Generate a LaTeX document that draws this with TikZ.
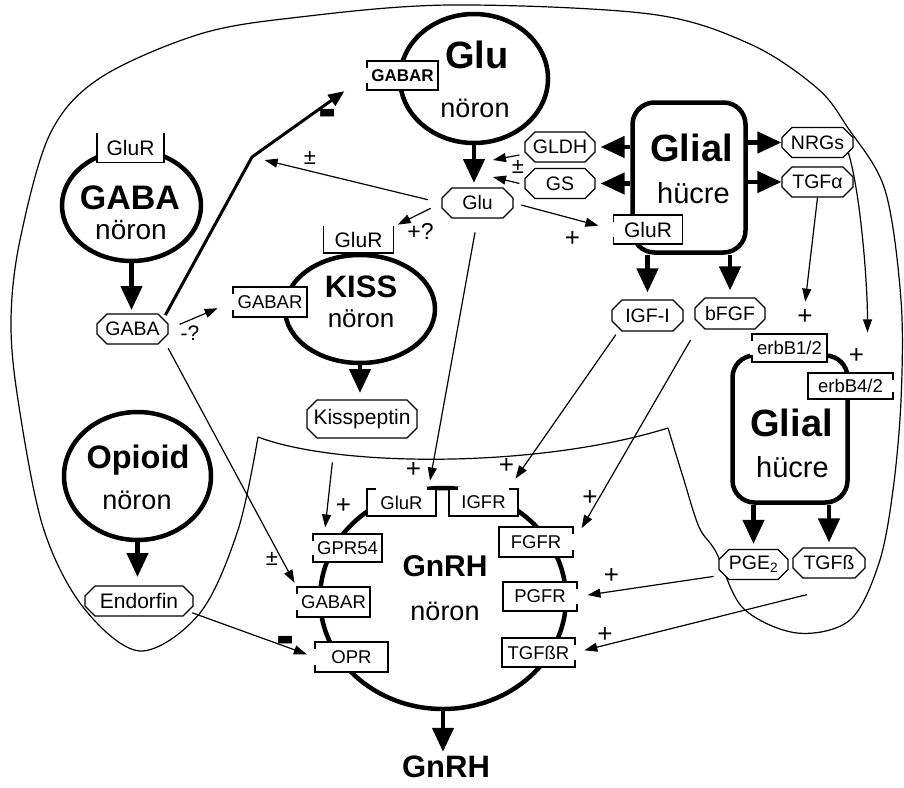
\documentclass[tikz,border=0pt]{standalone}
\usepackage{fontspec}
\setmainfont{Liberation Sans}
\usetikzlibrary{arrows.meta, shapes.geometric, shapes.misc}
\newcommand\fsz[1]{\fontsize{#1}{#1}\selectfont}

\begin{document}
\begin{tikzpicture}[
  x=1pt, y=-1pt,
  cell/.style = {line width=1.2pt},
  neuron/.style = {ellipse, draw, line width=4.5pt, inner sep=0pt},
  glial/.style = {draw, line width=4.5pt, rounded corners=22pt, inner sep=0pt, minimum width=113pt, minimum height=150pt},
  title/.style = {font=\fsz{34}\bfseries, inner sep=0pt},
  sub/.style = {font=\fsz{27}, inner sep=0pt},
  mol/.style = {chamfered rectangle, chamfered rectangle xsep=5pt, chamfered rectangle ysep=5pt, draw, line width=1.2pt, fill=white, inner sep=0pt, minimum width=71pt, minimum height=30pt, font=\fsz{19.5}},
  rec/.style = {draw, line width=1.2pt, fill=white, inner sep=0pt, minimum width=70pt, minimum height=29pt, font=\fsz{18.5}},
  gap/.style = {draw=white, line width=2.8pt},
  big/.style = {line width=4.5pt, -{Triangle[length=24pt, width=21pt]}},
  sig/.style = {line width=1.2pt, -{Triangle[length=13pt, width=9pt]}},
  lbl/.style = {font=\fsz{26}, inner sep=0pt},
  minus/.style = {font=\fsz{42}\bfseries, inner sep=0pt}
]
  \useasboundingbox (0,0) rectangle (904,787);

  % cell outline
  \draw[cell] (258,437) .. controls (340,468) and (540,468) .. (668,428)
    plot[smooth, tension=0.55] coordinates {(668,428) (683,477) (699,527) (716,552) (743,608)
      (797,633) (850,620) (879,563) (893,490) (901,400) (901,300) (885,190) (848,128)
      (817,88) (750,44) (650,14) (450,5) (300,17) (200,34) (100,78) (50,134) (20,240)
      (11,320) (18,400) (43,527) (83,607) (140,651) (200,613) (238,530) (258,437)};

  % neurons
  \node[neuron, minimum width=139pt, minimum height=111pt] (gabaN) at (131.5,205.5) {};
  \node[neuron, minimum width=148pt, minimum height=129pt] (gluN) at (474,78.5) {};
  \node[neuron, minimum width=150pt, minimum height=108pt] (kissN) at (360,309) {};
  \node[neuron, minimum width=147pt, minimum height=128pt] (opioidN) at (137.5,476) {};
  \node[neuron, minimum width=246pt, minimum height=221pt] (gnrhN) at (443,598.5) {};

  % glial cells
  \node[glial] (glialT) at (689,177.5) {};
  \node[glial, minimum width=115pt, minimum height=147pt] (glialB) at (790,429) {};

  \node[font=\fsz{31}\bfseries, inner sep=0pt] (gnrhOut) at (446,767) {GnRH};

  % big arrows
  \draw[big, shorten >=5pt] (gabaN.south) -- (gabaN.south |- 0,315);
  \draw[big, shorten >=5pt] (gluN.south) -- (gluN.south |- 0,188);
  \draw[big, shorten >=7pt] (kissN.south) -- (kissN.south |- 0,400);
  \draw[big, shorten >=9pt] (opioidN.south) -- (opioidN.south |- 0,586);
  \draw[big, shorten >=4pt] (gnrhN.south) -- (gnrhN.south |- gnrhOut.north);

  % receptors
  \node[rec, minimum width=67pt, font=\fsz{21}] (gluRgaba) at (130.5,148) {GluR};
  \node[rec, minimum width=71pt, font=\fsz{17}\bfseries] (gabaRglu) at (402.5,75.5) {GABAR};
  \node[rec, minimum height=26pt, font=\fsz{21}] (gluRkiss) at (358.5,240) {GluR};
  \node[rec, minimum width=74pt, minimum height=30pt] (gabaRkiss) at (270,302) {GABAR};
  \node[rec, minimum width=69pt, font=\fsz{21}] (gluRglial) at (648,229.5) {GluR};
  \node[rec, minimum width=69pt, minimum height=27pt] (gluRgnrh) at (401.5,502.5) {GluR};
  \node[rec, minimum width=69pt, minimum height=27pt] (igfR) at (483.5,502.5) {IGFR};
  \node[rec, minimum width=69pt, minimum height=28pt] (gpr54) at (347.5,548) {GPR54};
  \node[rec, minimum width=73pt, minimum height=30pt] (gabaRgnrh) at (333.5,602) {GABAR};
  \node[rec, minimum width=73pt, minimum height=30pt] (opr) at (351.5,657) {OPR};
  \node[rec, minimum width=74pt, minimum height=30pt] (fgfR) at (536,542) {FGFR};
  \node[rec, minimum width=74pt] (pgfR) at (540,596.5) {PGFR};
  \node[rec, minimum width=73pt] (tgfbR) at (538.5,652.5) {TGFßR};
  \node[rec, minimum width=75pt, minimum height=28pt] (erb12) at (789.5,348) {erbB1/2};
  \node[rec, minimum width=85pt, minimum height=26pt] (erb42) at (850.5,386) {erbB4/2};

  \foreach \r in {gabaRglu, gabaRkiss, gluRglial, gpr54, gabaRgnrh, opr, erb12}
    \draw[gap] ([yshift=8pt]\r.south west) -- ([yshift=-8pt]\r.north west);
  \foreach \r in {fgfR, pgfR, tgfbR, erb42}
    \draw[gap] ([yshift=8pt]\r.south east) -- ([yshift=-8pt]\r.north east);
  \foreach \r in {gluRgnrh, igfR}
    \draw[gap] ([xshift=10pt]\r.north west) -- ([xshift=-10pt]\r.north east);
  \foreach \r in {gluRgaba, gluRkiss}
    \draw[gap] ([xshift=1.5pt]\r.north west) -- ([xshift=-1.5pt]\r.north east);

  % messengers
  \node[mol] (gabaHex) at (132.5,329) {GABA};
  \node[mol, minimum width=110pt, minimum height=38pt, font=\fsz{21}] (kisspeptin) at (362,419) {Kisspeptin};
  \node[mol, minimum width=108pt, font=\fsz{21}] (endorfin) at (139,601) {Endorfin};
  \node[mol] (gluHex) at (477.5,203) {Glu};
  \node[mol, minimum width=70pt] (gldh) at (560,147) {GLDH};
  \node[mol, minimum width=70pt] (gs) at (560,183.5) {GS};
  \node[mol] (nrgs) at (817.5,142.5) {NRGs};
  \node[mol] (tgfa) at (817.5,182) {TGFα};
  \node[mol, minimum height=31pt] (igf) at (647.5,315.5) {IGF-I};
  \node[mol, minimum width=70pt, minimum height=31pt] (bfgf) at (730,313.5) {bFGF};
  \node[mol, minimum width=69pt] (pge) at (753.5,564.5) {PGE\textsubscript{2}};
  \node[mol, minimum width=72pt] (tgfb) at (829,563) {TGFß};

  % glial outputs
  \draw[big, shorten >=5pt] (glialT.west |- gldh) -- (gldh.east);
  \draw[big, shorten >=5pt] (glialT.west |- gs) -- (gs.east);
  \draw[big] (glialT.east |- nrgs) -- (nrgs.west);
  \draw[big] (glialT.east |- tgfa) -- (tgfa.west);
  \draw[big, shorten >=7pt] (igf.north |- glialT.south) -- (igf.north);
  \draw[big, shorten >=7pt] (bfgf.north |- glialT.south) -- (bfgf.north);
  \draw[big, shorten >=5pt] (pge.north |- glialB.south) -- (pge.north);
  \draw[big, shorten >=5pt] (tgfb.north |- glialB.south) -- (tgfb.north);

  % signals
  \coordinate (bend) at (252,157);
  \draw[line width=3pt, -{Triangle[length=16pt, width=13pt]}, shorten <=4pt, shorten >=27pt]
    (gabaHex.north east) -- (bend) -- (gabaRglu.west);
  \draw[sig, shorten <=14pt, shorten >=13pt] (gluHex.west) -- (bend);
  \draw[sig, shorten <=12pt, shorten >=4pt] (gluHex.west) -- (gluRkiss.north east);
  \draw[sig, shorten <=8pt, shorten >=15pt] (gluHex.east) -- (gluRglial.west);
  \draw[sig, shorten <=14pt, shorten >=8pt] (gluHex.south) -- ([xshift=-8pt]gluRgnrh.north east);
  \coordinate (synA) at (493,160);
  \coordinate (synB) at (493,177);
  \draw[sig] ([shift={(-5,8)}]gldh.west) -- (synA);
  \draw[sig] ([xshift=-5pt]gs.west) -- (synB);
  \draw[sig, shorten <=12pt, shorten >=16pt] (gabaHex.east) -- (gabaRkiss.west);
  \draw[sig, shorten <=10pt, shorten >=4pt] (gabaHex.south east) -- (gabaRgnrh.north west);
  \draw[sig, shorten <=24pt, shorten >=6pt] ([xshift=-27pt]kisspeptin.south) -- ([xshift=-23pt]gpr54.north);
  \draw[sig, shorten <=4pt, shorten >=8pt] (endorfin.south east) -- (opr.west);
  \draw[sig, shorten <=10pt, shorten >=12pt] ([xshift=5pt]igf.south west) -- ([xshift=-10pt]igfR.north east);
  \draw[sig, shorten <=18pt, shorten >=16pt] (bfgf.south west) -- (fgfR.east);
  \draw[sig, shorten <=10pt, shorten >=10pt] (pge.south west) -- (pgfR.east);
  \draw[sig, shorten >=9pt] ([shift={(-22,16)}]tgfb.south) -- (tgfbR.east);
  \draw[sig, shorten >=32pt] (tgfa.south) -- ([xshift=12pt]erb12.north);
  \coordinate (erbIn) at ([xshift=17pt, yshift=40pt]erb42.north);
  \draw[sig] (nrgs.south east) .. controls +(12,40) and +(0,-50) .. (erbIn);

  % cell names
  \node[title] (gabaT) at (130,197.5) {GABA};
  \node[sub, font=\fsz{28}] (gabaS) at (131,230.5) {nöron};
  \node[title, font=\fsz{38}\bfseries] (gluT) at (477,55) {Glu};
  \node[sub] (gluS) at (475,108) {nöron};
  \node[title, font=\fsz{31}\bfseries] (kissT) at (361,287) {KISS};
  \node[sub, font=\fsz{26}] (kissS) at (361,319) {nöron};
  \node[title, font=\fsz{32.5}\bfseries] (opioidT) at (138,460) {Opioid};
  \node[sub] (opioidS) at (137,500) {nöron};
  \node[title, font=\fsz{30}\bfseries] (gnrhT) at (445,566) {GnRH};
  \node[sub] (gnrhS) at (445,611) {nöron};
  \node[title, font=\fsz{38}\bfseries] (glialTT) at (691.5,147.5) {Glial};
  \node[sub, font=\fsz{29}] (glialTS) at (693.5,193.5) {hücre};
  \node[title, font=\fsz{38}\bfseries] (glialBT) at (791.5,422.5) {Glial};
  \node[sub, font=\fsz{29}] (glialBS) at (792.5,467.5) {hücre};

  % effect signs
  \node[minus] (mGlu) at (328,119) {\scalebox{1.3}[1.5]{-}};
  \node[lbl, font=\fsz{22}] (pmGlu) at (310,158) {±};
  \node[lbl, font=\fsz{22}] (pmSyn) at (518,166.5) {±};
  \node[lbl, font=\fsz{23}] (pqKiss) at (420.5,231.5) {+?};
  \node[lbl] (pGlial) at (572.5,238.5) {+};
  \node[lbl] (pGluR) at (413.5,470) {+};
  \node[lbl, font=\fsz{21}] (mqKiss) at (190,333.5) {-?};
  \node[lbl, font=\fsz{22}] (pmGnrh) at (272,559) {±};
  \node[lbl] (pGpr) at (343.5,506) {+};
  \node[minus] (mOpr) at (286,646.5) {\scalebox{1.3}[1.5]{-}};
  \node[lbl] (pIgf) at (506.5,465.5) {+};
  \node[lbl] (pFgf) at (590,497.5) {+};
  \node[lbl] (pPgf) at (611.5,575.5) {+};
  \node[lbl] (pTgf) at (605,634.5) {+};
  \node[lbl] (pErbA) at (805,316.5) {+};
  \node[lbl] (pErbB) at (856.5,355.5) {+};
\end{tikzpicture}
\end{document}
